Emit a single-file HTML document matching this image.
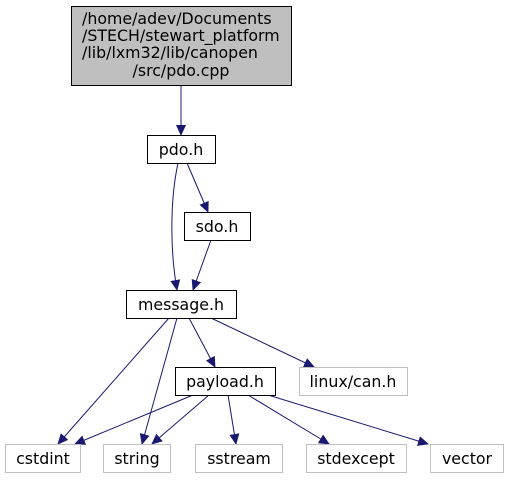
<!DOCTYPE html>
<html><head><style>body{margin:0;background:#fff}</style></head><body>
<svg width="509" height="479" xmlns="http://www.w3.org/2000/svg" font-family="DejaVu Sans, sans-serif" font-size="15.8">
<defs><marker id="a" markerWidth="11" markerHeight="10" refX="10" refY="5" orient="auto" markerUnits="userSpaceOnUse"><path d="M0,0 L11,5 L0,10z" fill="#191970"/></marker></defs>
<g stroke="#191970" fill="none" marker-end="url(#a)">
<line x1="181" y1="85" x2="181" y2="135"/>
<line x1="187" y1="163" x2="208" y2="212"/>
<path d="M178,163 C170,200 170,250 177,290"/>
<line x1="211" y1="240" x2="193" y2="290"/>
<line x1="189" y1="318" x2="215" y2="367"/>
<line x1="211" y1="318" x2="314" y2="367"/>
<line x1="169" y1="318" x2="58" y2="444"/>
<line x1="177" y1="318" x2="142" y2="444"/>
<line x1="193" y1="395" x2="75" y2="444"/>
<line x1="209" y1="395" x2="152" y2="444"/>
<line x1="228" y1="395" x2="236" y2="444"/>
<line x1="248" y1="395" x2="329" y2="444"/>
<line x1="268" y1="395" x2="428" y2="444"/>
</g>
<rect x="71.5" y="6.5" width="220" height="79" fill="#bfbfbf" stroke="#000"/>
<g text-anchor="start"><text x="82" y="24">/home/adev/Documents</text><text x="82" y="41">/STECH/stewart_platform</text><text x="82" y="58">/lib/lxm32/lib/canopen</text></g>
<text x="181" y="76" text-anchor="middle">/src/pdo.cpp</text>
<g fill="#fff" stroke="#000"><rect x="147.5" y="135.5" width="68" height="28"/><rect x="184.5" y="212.5" width="66" height="28"/><rect x="126.5" y="290.5" width="110" height="28"/><rect x="175.5" y="367.5" width="100" height="28"/></g>
<g fill="#fff" stroke="#bfbfbf"><rect x="299.5" y="367.5" width="108" height="28"/><rect x="5.5" y="444.5" width="75" height="28"/><rect x="103.5" y="444.5" width="67" height="28"/><rect x="195.5" y="444.5" width="87" height="28"/><rect x="306.5" y="444.5" width="100" height="28"/><rect x="430.5" y="444.5" width="73" height="28"/></g>
<g text-anchor="middle" fill="#000">
<text x="181" y="155">pdo.h</text><text x="217" y="232">sdo.h</text><text x="181" y="310">message.h</text><text x="225" y="387">payload.h</text><text x="353" y="387">linux/can.h</text>
<text x="43" y="464">cstdint</text><text x="137" y="464">string</text><text x="239" y="464">sstream</text><text x="356" y="464">stdexcept</text><text x="467" y="464">vector</text>
</g>
</svg>
</body></html>
